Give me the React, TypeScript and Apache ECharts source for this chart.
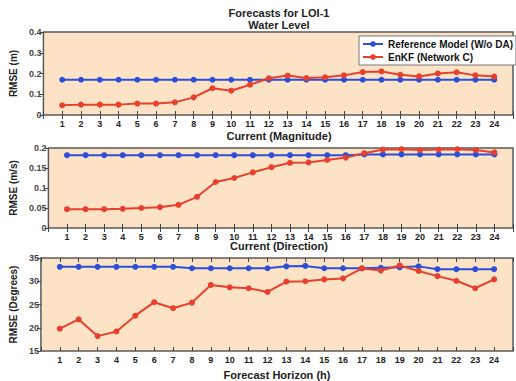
import React, { useEffect, useRef } from "react";
import * as echarts from "echarts";

const hours = [1, 2, 3, 4, 5, 6, 7, 8, 9, 10, 11, 12, 13, 14, 15, 16, 17, 18, 19, 20, 21, 22, 23, 24];

const wlRef = [0.17, 0.17, 0.17, 0.17, 0.17, 0.17, 0.17, 0.17, 0.17, 0.17, 0.17, 0.17, 0.17, 0.17, 0.17, 0.17, 0.17, 0.17, 0.17, 0.17, 0.17, 0.17, 0.17, 0.17];
const wlEnkf = [0.047, 0.05, 0.05, 0.05, 0.055, 0.055, 0.061, 0.085, 0.129, 0.117, 0.146, 0.177, 0.19, 0.178, 0.182, 0.191, 0.207, 0.21, 0.194, 0.186, 0.2, 0.206, 0.191, 0.185];

const magRef = [0.182, 0.182, 0.182, 0.182, 0.182, 0.182, 0.182, 0.182, 0.182, 0.182, 0.182, 0.182, 0.182, 0.182, 0.182, 0.182, 0.184, 0.184, 0.184, 0.184, 0.184, 0.184, 0.184, 0.184];
const magEnkf = [0.047, 0.047, 0.047, 0.048, 0.05, 0.052, 0.058, 0.078, 0.115, 0.125, 0.139, 0.152, 0.163, 0.164, 0.17, 0.176, 0.187, 0.196, 0.197, 0.195, 0.196, 0.197, 0.195, 0.189];

const dirRef = [33.1, 33.1, 33.1, 33.1, 33.1, 33.1, 33.1, 32.8, 32.8, 32.8, 32.8, 32.8, 33.2, 33.3, 32.8, 32.8, 32.8, 32.9, 33.0, 33.2, 32.6, 32.6, 32.6, 32.6];
const dirEnkf = [19.8, 21.8, 18.2, 19.2, 22.6, 25.5, 24.2, 25.4, 29.2, 28.7, 28.5, 27.7, 29.9, 30.0, 30.4, 30.6, 32.75, 32.3, 33.4, 32.2, 31.1, 30.1, 28.5, 30.4];

const wlTicks = [0, 0.1, 0.2, 0.3, 0.4];
const magTicks = [0, 0.05, 0.1, 0.15, 0.2];
const dirTicks = [15, 20, 25, 30, 35];

const seriesNames = ["Reference Model (W/o DA)", "EnKF (Network C)"];
const titles = ["Forecasts for LOI-1", "Water Level", "Current (Magnitude)", "Current (Direction)"];
const yNames = ["RMSE (m)", "RMSE (m/s)", "RMSE (Degrees)"];
const xName = "Forecast Horizon (h)";

const BLUE = "#2b4fd8";
const RED = "#e8402e";
const FONT = "Liberation Sans";

export default function App() {
  const ref = useRef<HTMLDivElement>(null);
  useEffect(() => {
    document.body.style.margin = "0";
    if (!ref.current) return;
    const chart = echarts.init(ref.current, undefined, { renderer: "svg" });
    const grids = [
      { top: 32, height: 83 },
      { top: 148, height: 80 },
      { top: 258, height: 95 },
    ].map((g) => ({
      left: 37,
      right: -5,
      top: g.top,
      height: g.height,
      show: true,
      backgroundColor: "#fce3c6",
      borderColor: "#5a5a5a",
      borderWidth: 1.5,
    }));
    const ranges = [
      { ticks: wlTicks, interval: 0.1 },
      { ticks: magTicks, interval: 0.05 },
      { ticks: dirTicks, interval: 5 },
    ];
    const labelStyle = { color: "#222", fontFamily: FONT, fontWeight: "bold" as const, fontSize: 9 };
    const xAxes: any[] = [];
    const yAxes: any[] = [];
    for (let i = 0; i < 3; i++) {
      xAxes.push({
        type: "value",
        gridIndex: i,
        min: 0,
        max: 25,
        interval: 1,
        position: "bottom",
        axisLine: { show: false },
        axisTick: { show: true, inside: true, length: 4, lineStyle: { color: "#444" } },
        splitLine: { show: false },
        axisLabel: {
          ...labelStyle,
          margin: 4,
          formatter: (v: number) => (hours.includes(v) ? String(v) : ""),
        },
        name: i === 2 ? xName : "",
        nameLocation: "middle",
        nameGap: 18,
        nameTextStyle: { color: "#222", fontFamily: FONT, fontWeight: "bold", fontSize: 11 },
      });
      xAxes.push({
        type: "value",
        gridIndex: i,
        min: 0,
        max: 25,
        interval: 1,
        position: "top",
        axisLine: { show: false },
        axisTick: { show: true, inside: true, length: 4, lineStyle: { color: "#444" } },
        splitLine: { show: false },
        axisLabel: { show: false },
      });
      const r = ranges[i];
      const mn = r.ticks[0];
      const mx = r.ticks[r.ticks.length - 1];
      yAxes.push({
        type: "value",
        gridIndex: i,
        min: mn,
        max: mx,
        interval: r.interval,
        position: "left",
        axisLine: { show: false },
        axisTick: { show: true, inside: false, length: 3, lineStyle: { color: "#444" } },
        splitLine: { show: false },
        axisLabel: { ...labelStyle, margin: 2, color: "#444" },
        name: yNames[i],
        nameLocation: "middle",
        nameRotate: 90,
        nameGap: 22,
        nameTextStyle: { color: "#222", fontFamily: FONT, fontWeight: "bold", fontSize: 10 },
      });
      yAxes.push({
        type: "value",
        gridIndex: i,
        min: mn,
        max: mx,
        interval: r.interval,
        position: "right",
        axisLine: { show: false },
        axisTick: { show: true, inside: true, length: 4, lineStyle: { color: "#444" } },
        splitLine: { show: false },
        axisLabel: { show: false },
      });
    }
    const pairs = (arr: number[]) => hours.map((h, k) => [h, arr[k]]);
    const mk = (name: string, color: string, data: number[], i: number) => ({
      name,
      type: "line",
      xAxisIndex: i * 2,
      yAxisIndex: i * 2,
      data: pairs(data),
      symbol: "circle",
      symbolSize: 6,
      itemStyle: { color },
      lineStyle: { color, width: 2 },
    });
    const series: any[] = [];
    const sets = [
      [wlRef, wlEnkf],
      [magRef, magEnkf],
      [dirRef, dirEnkf],
    ];
    for (let i = 0; i < 3; i++) {
      series.push(mk(seriesNames[0], BLUE, sets[i][0], i));
      series.push(mk(seriesNames[1], RED, sets[i][1], i));
    }
    const titleY = [13, 25, 136, 246];
    chart.setOption({
      animation: false,
      backgroundColor: "#ffffff",
      grid: grids,
      xAxis: xAxes,
      yAxis: yAxes,
      series,
      legend: {
        data: seriesNames,
        orient: "vertical",
        left: 359,
        top: 36,
        itemWidth: 20,
        itemHeight: 7,
        itemGap: 3,
        padding: [3, 3, 3, 3],
        backgroundColor: "#ffffff",
        borderColor: "#777",
        borderWidth: 1,
        textStyle: { color: "#111", fontFamily: FONT, fontWeight: "bold", fontSize: 10 },
      },
      graphic: titles.map((t, k) => ({
        type: "text",
        x: 279,
        y: titleY[k],
        style: {
          text: t,
          align: "center",
          verticalAlign: "middle",
          fill: "#222",
          fontFamily: FONT,
          fontWeight: "bold",
          fontSize: 11,
        },
      })),
    });
    return () => chart.dispose();
  }, []);
  return <div ref={ref} style={{ width: 516, height: 381 }} />;
}
